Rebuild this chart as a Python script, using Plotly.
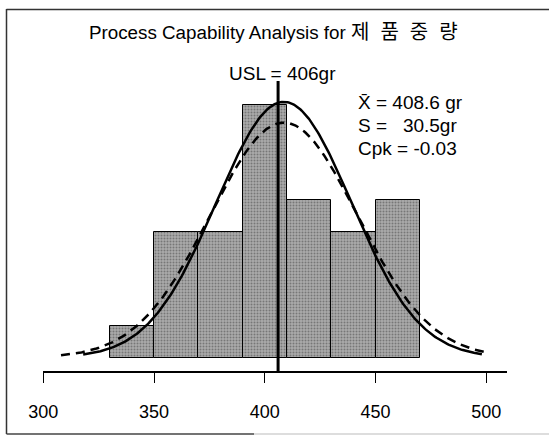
import numpy as np
import plotly.graph_objects as go

# ---- data ----
bin_left = [330, 350, 370, 390, 410, 430, 450]
bin_width = 20
counts = [1, 4, 4, 8, 5, 4, 5]
mean_x = 408.6
sigma_within = 30.5      # solid curve
sigma_overall = 33.2     # dashed curve (read from its lower peak)
usl = 406
tick_vals = [300, 350, 400, 450, 500]
tick_text = ["300", "350", "400", "450", "500"]
title_latin = "Process Capability Analysis for "
title_korean = "제품중량"
usl_text = "USL = 406gr"
stat_lines = ["X\u0304 = 408.6 gr", "S =\u00a0\u00a0 30.5gr", "Cpk = -0.03"]

N = sum(counts)

def normal_curve(x, mu, s):
    return N * bin_width / (s * np.sqrt(2 * np.pi)) * np.exp(-0.5 * ((x - mu) / s) ** 2)

xs_solid = np.linspace(318, 498, 300)
xs_dash = np.linspace(308, 500, 300)

# ---- layout geometry ----
W, H = 549, 437
L, R, T, B = 43, 42, 60, 66
pw, ph = W - L - R, H - T - B
px_per_unit = 2.215
x0 = 300 - (L - 42.7) / px_per_unit
x1 = x0 + pw / px_per_unit
px_per_count = 31.55
y_base_px = 357.7
ylo = -(H - B - y_base_px) / px_per_count
yhi = (y_base_px - T) / px_per_count

def ydata(py):
    return (y_base_px - py) / px_per_count

def xpaper(px):
    return (px - L) / pw

def ypaper(py):
    return (H - B - py) / ph

FONT = "Arial, 'Liberation Sans', 'Noto Sans CJK KR', sans-serif"

fig = go.Figure()
fig.add_trace(go.Bar(
    x=[b + bin_width / 2 for b in bin_left], y=counts, width=bin_width,
    marker=dict(color="#9c9c9c", line=dict(color="black", width=1),
                pattern=dict(shape=".", fgcolor="#444444", bgcolor="#ababab", size=3, solidity=0.35)),
    showlegend=False, hoverinfo="skip"))
fig.add_trace(go.Scatter(x=xs_dash, y=normal_curve(xs_dash, mean_x, sigma_overall), mode="lines",
                         line=dict(color="black", width=2.5, dash="9px,6px"), showlegend=False,
                         hoverinfo="skip"))
fig.add_trace(go.Scatter(x=xs_solid, y=normal_curve(xs_solid, mean_x, sigma_within), mode="lines",
                         line=dict(color="black", width=2.5), showlegend=False, hoverinfo="skip"))

shapes = [
    dict(type="line", xref="x", yref="y", x0=usl, x1=usl, y0=ylo, y1=ydata(81),
         line=dict(color="black", width=3)),
    # frame
    dict(type="line", xref="paper", yref="paper", x0=xpaper(6.5), x1=xpaper(6.5), y0=ypaper(9), y1=ypaper(434),
         line=dict(color="#333333", width=1.5)),
    dict(type="line", xref="paper", yref="paper", x0=xpaper(6.5), x1=xpaper(560), y0=ypaper(9.5), y1=ypaper(9.5),
         line=dict(color="#333333", width=1.5)),
    dict(type="line", xref="paper", yref="paper", x0=xpaper(6.5), x1=xpaper(254), y0=ypaper(434), y1=ypaper(434),
         line=dict(color="#444444", width=1.5)),
    dict(type="line", xref="paper", yref="paper", x0=xpaper(254), x1=xpaper(560), y0=ypaper(434), y1=ypaper(434),
         line=dict(color="#bbbbbb", width=1)),
]

annotations = [
    dict(text=title_latin + '<span style="font-size:20px;letter-spacing:11px">' + title_korean + '</span>',
         xref="paper", yref="paper", x=xpaper(87), y=ypaper(32),
         showarrow=False, xanchor="left", yanchor="middle", font=dict(size=18.8, color="black", family=FONT)),
    dict(text=usl_text, xref="paper", yref="paper", x=xpaper(282.5), y=ypaper(73),
         showarrow=False, xanchor="center", yanchor="middle", font=dict(size=19, color="black", family=FONT)),
]
stat_y = [102, 125.5, 148]
for txt, py in zip(stat_lines, stat_y):
    annotations.append(dict(text=txt, xref="paper", yref="paper", x=xpaper(355.5), y=ypaper(py),
                            showarrow=False, xanchor="left", yanchor="middle",
                            font=dict(size=19, color="black", family=FONT)))

fig.update_layout(
    width=W, height=H, margin=dict(l=L, r=R, t=T, b=B, pad=0),
    paper_bgcolor="white", plot_bgcolor="white",
    bargap=0, shapes=shapes, annotations=annotations, hovermode=False,
    xaxis=dict(range=[x0, x1], tickvals=tick_vals, ticktext=tick_text, ticks="outside", ticklen=10,
               tickwidth=1, tickcolor="black", showline=True, linecolor="black", linewidth=1.5,
               showgrid=False, zeroline=False, tickfont=dict(size=18, color="black", family=FONT),
               ticklabelstandoff=14),
    yaxis=dict(range=[ylo, yhi], visible=False, showgrid=False, zeroline=False),
    font=dict(family=FONT, color="black"),
)

fig.write_html("out.html", config={"displayModeBar": False},
               post_script="document.body.style.margin='0';")
